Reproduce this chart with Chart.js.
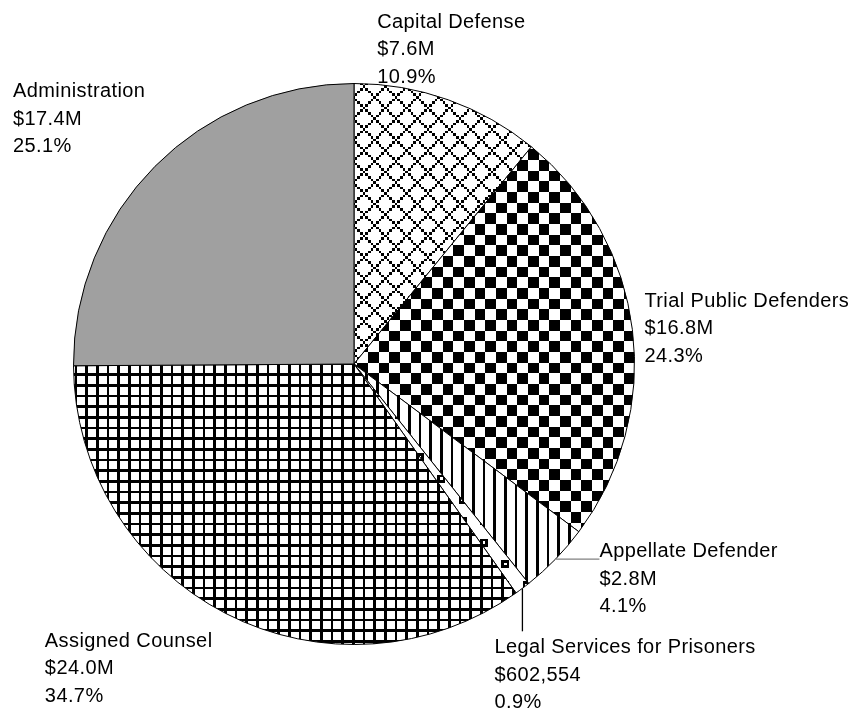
<!DOCTYPE html>
<html><head><meta charset="utf-8">
<script src="https://cdn.jsdelivr.net/npm/chart.js@4"></script>
<style>html,body{margin:0;padding:0;background:#fff;} #wrap{width:858px;height:713px;}</style>
</head><body><div id="wrap"><canvas id="c" width="858" height="713"></canvas></div>
<script>
// ---- data ----
const categories = ["Capital Defense","Trial Public Defenders","Appellate Defender","Legal Services for Prisoners","Assigned Counsel","Administration"];
const amountLabels = ["$7.6M","$16.8M","$2.8M","$602,554","$24.0M","$17.4M"];
const percents = [10.9, 24.3, 4.1, 0.9, 34.7, 25.1];

// ---- patterns (8x8 bitmaps scaled by 8/3) ----
const canvas = document.getElementById('c');
const ctx = canvas.getContext('2d');
function bitmapPattern(fn) {
  const small = document.createElement('canvas'); small.width = 24; small.height = 24;
  const s = small.getContext('2d');
  s.fillStyle = '#fff'; s.fillRect(0, 0, 24, 24); s.fillStyle = '#000';
  for (let y = 0; y < 24; y++) for (let x = 0; x < 24; x++) if (fn(x % 8, y % 8)) s.fillRect(x, y, 1, 1);
  const big = document.createElement('canvas'); big.width = 64; big.height = 64;
  const b = big.getContext('2d'); b.imageSmoothingEnabled = false;
  b.drawImage(small, 0, 0, 64, 64);
  return ctx.createPattern(big, 'repeat');
}
const patDiamond = bitmapPattern((x, y) => ((x - y + 8) % 8 === 0) || ((x + y) % 8 === 0));
const patChecker = bitmapPattern((x, y) => ((Math.floor(((x + 2) % 8) / 4) + Math.floor(y / 4)) % 2 === 0));
const patVertical = bitmapPattern((x, y) => x % 4 === 1);
const patSquares = bitmapPattern((x, y) => (x >= 4 && x <= 6 && y >= 2 && y <= 4) && !(x === 5 && y === 3));
const patGrid = bitmapPattern((x, y) => x % 4 === 0 || y % 4 === 0);
const colors = [patDiamond, patChecker, patVertical, patSquares, patGrid, '#a0a0a0'];

// ---- label layout (relative to each slice's outer mid point) ----
const labelLayout = [
  {dx: -71, dy: -72},
  {dx: 12, dy: -23},
  {dx: 44, dy: -2, leader: 'h', leaderColor: '#808080'},
  {dx: -28, dy: 65, leader: 'v', leaderColor: '#000', leaderLen: 43},
  {dx: -181, dy: 33},
  {dx: -142, dy: -69}
];

const labelPlugin = {
  id: 'sliceLabels',
  afterDatasetsDraw(chart) {
    const c = chart.ctx;
    const meta = chart.getDatasetMeta(0);
    c.save();
    c.font = '20px "Liberation Sans", Arial, sans-serif';
    if ('letterSpacing' in c) c.letterSpacing = '0.4px';
    c.textAlign = 'left';
    c.textBaseline = 'alphabetic';
    meta.data.forEach((arc, i) => {
      const p = arc.getProps(['x', 'y', 'startAngle', 'endAngle', 'outerRadius'], true);
      const mid = (p.startAngle + p.endAngle) / 2;
      const ex = p.x + Math.cos(mid) * p.outerRadius;
      const ey = p.y + Math.sin(mid) * p.outerRadius;
      const L = labelLayout[i];
      if (L.leader) {
        c.strokeStyle = L.leaderColor; c.lineWidth = 1.3;
        c.beginPath();
        c.moveTo(ex, ey);
        if (L.leader === 'h') c.lineTo(ex + L.dx, ey);
        else c.lineTo(ex, ey + L.leaderLen);
        c.stroke();
      }
      c.fillStyle = '#000';
      const lines = [categories[i], amountLabels[i], percents[i].toFixed(1) + '%'];
      lines.forEach((t, k) => c.fillText(t, ex + L.dx, ey + L.dy + k * 27.5));
    });
    c.restore();
  }
};

new Chart(ctx, {
  type: 'pie',
  data: {
    labels: categories,
    datasets: [{
      data: percents,
      backgroundColor: colors,
      borderColor: '#000',
      borderWidth: 1,
      hoverOffset: 0
    }]
  },
  options: {
    responsive: false,
    animation: false,
    events: [],
    layout: {padding: {left: 73, right: 223, top: 83, bottom: 68}},
    plugins: {legend: {display: false}, tooltip: {enabled: false}}
  },
  plugins: [labelPlugin]
});
</script>
</body></html>
